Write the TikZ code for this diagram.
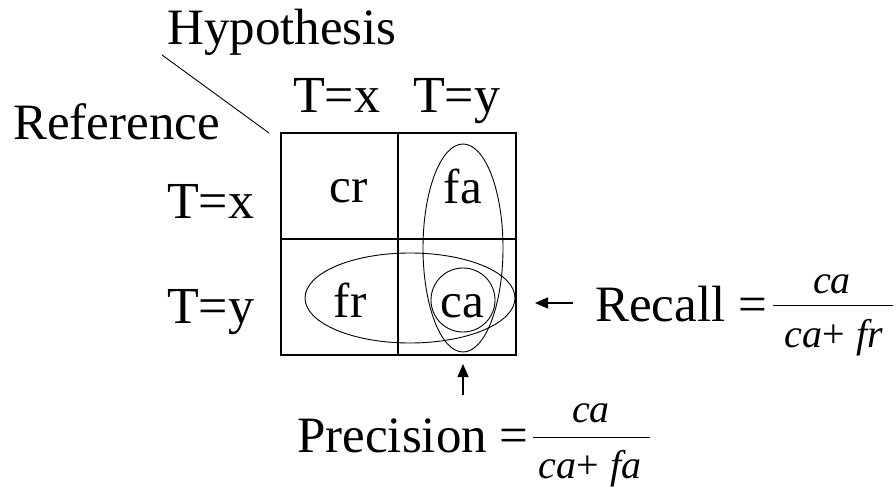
\documentclass[tikz,border=0pt]{standalone}
\usepackage{fontspec}
\setmainfont{Liberation Serif}
\usetikzlibrary{arrows.meta}
\begin{document}
\begin{tikzpicture}[x=1pt,y=-1pt,
  big/.style={inner sep=0pt,anchor=base west,font=\fontsize{51}{51}\selectfont},
  cell/.style={inner sep=0pt,anchor=base,font=\fontsize{49}{49}\selectfont},
  frac/.style={inner sep=0pt,anchor=base,font=\fontsize{40}{40}\selectfont},
  gridline/.style={line width=1.3pt},
  oval/.style={line width=0.9pt},
  arr/.style={line width=1.2pt,-{Triangle[length=13pt,width=11pt]}}]
\useasboundingbox (0,0) rectangle (896,489);
% labels
\node[big] (hyp) at (167,45) {Hypothesis};
\node[big] (ref) at (13,140) {Reference};
\coordinate (d1) at (162,55);
\coordinate (d2) at (269,133);
\draw[line width=0.9pt] (d1) -- (d2);
\node[big,font=\fontsize{52}{52}\selectfont] (cx) at (293,113) {T=x};
\node[big,font=\fontsize{52}{52}\selectfont] (cy) at (413,113) {T=y};
\node[big,font=\fontsize{52}{52}\selectfont] (rx) at (167,218) {T=x};
\node[big,font=\fontsize{52}{52}\selectfont] (ry) at (167,323) {T=y};
% grid
\draw[gridline] (281,133) rectangle (516,355);
\draw[gridline] (398,133) -- (398,355);
\draw[gridline] (281,239) -- (516,239);
% cells
\node[cell] (cr) at (349,203) {cr};
\node[cell] (fa) at (463,204) {fa};
\node[cell] (fr) at (350,317) {fr};
\node[cell] (ca) at (462,317) {ca};
% ovals
\draw[oval] (463,248) ellipse [x radius=40, y radius=104];
\draw[oval] (410,298) ellipse [x radius=105, y radius=45];
\draw[oval] (463,300) ellipse [x radius=32, y radius=32];
% recall
\node[big] (rec) at (595,321) {Recall =};
\draw[line width=0.9pt] (773,305) -- (893,305);
\node[frac] (rnum) at (832,293) {\itshape ca};
\node[frac] (rden) at (834,347) {\itshape ca\upshape+\;\itshape fr};
\coordinate (ra) at (573,303);
\coordinate (rt) at (535,303);
\draw[arr] (ra) -- (rt);
% precision
\node[big] (prec) at (297,452) {Precision =};
\draw[line width=0.9pt] (533,437) -- (650,437);
\node[frac] (pnum) at (591,422) {\itshape ca};
\node[frac] (pden) at (590,478) {\itshape ca\upshape+\;\itshape fa};
\coordinate (pa) at (463,395);
\coordinate (pt) at (463,364);
\draw[arr] (pa) -- (pt);
\end{tikzpicture}
\end{document}
